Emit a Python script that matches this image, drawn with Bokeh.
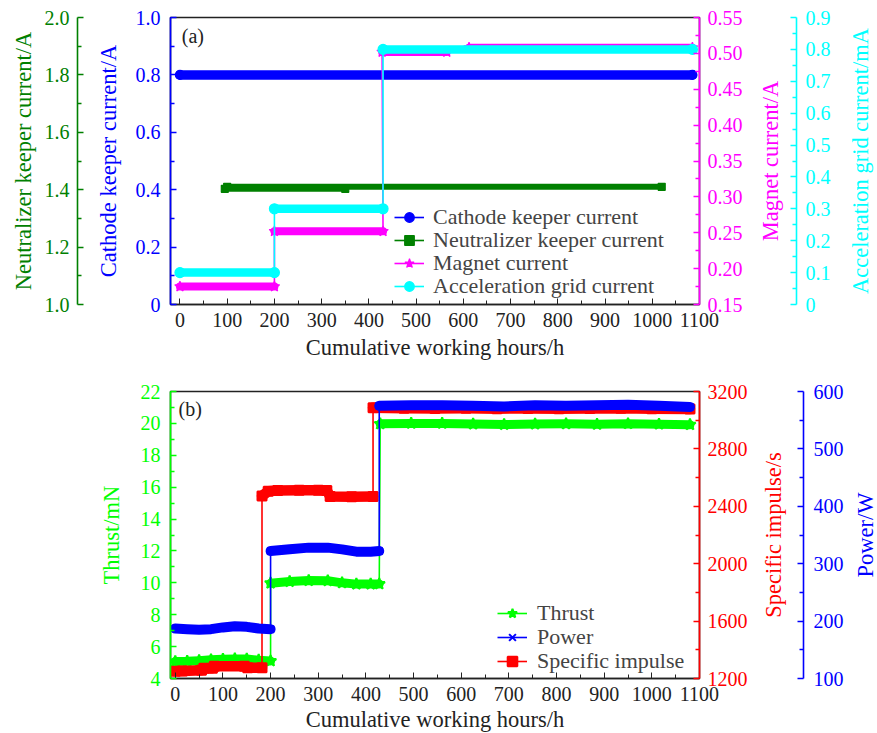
import math
from bokeh.plotting import figure
from bokeh.models import (Range1d, LinearAxis, FixedTicker, Legend, LegendItem,
                          Label, CustomJSTickFormatter)
from bokeh.layouts import column
from bokeh.embed import file_html
from bokeh.resources import INLINE

FONT = "Liberation Serif"
TICK_FS = "20px"
LABEL_FS = "22.5px"
LEG_FS = "22px"
FW = 529          # frame width (px)

# ---------------- shared ----------------
x_title = "Cumulative working hours/h"
x_major = [0, 100, 200, 300, 400, 500, 600, 700, 800, 900, 1000, 1100]
x_minor = [50, 150, 250, 350, 450, 550, 650, 750, 850, 950, 1050]

# ---------------- panel (a) data ----------------
cath_label = "Cathode keeper current"
cath_start = [0]
cath_end = [1085]
cath_val = [0.80]

neut_label = "Neutralizer keeper current"
neut_start = [95, 100]
neut_end = [350, 1020]
neut_val = [1.403, 1.41]

mag_label = "Magnet current"
mag_start = [0, 200, 428, 612]
mag_end = [200, 430, 565, 1085]
mag_val = [0.175, 0.252, 0.502, 0.508]

acc_label = "Acceleration grid current"
acc_start = [0, 200, 430]
acc_end = [200, 430, 1085]
acc_val = [0.10, 0.30, 0.80]

cath_axis_title = "Cathode keeper current/A"
neut_axis_title = "Neutralizer keeper current/A"
mag_axis_title = "Magnet current/A"
acc_axis_title = "Acceleration grid current/mA"
cath_ticks = [0, 0.2, 0.4, 0.6, 0.8, 1.0]
neut_ticks = [1.0, 1.2, 1.4, 1.6, 1.8, 2.0]
mag_ticks = [0.15, 0.20, 0.25, 0.30, 0.35, 0.40, 0.45, 0.50, 0.55]
acc_ticks = [0, 0.1, 0.2, 0.3, 0.4, 0.5, 0.6, 0.7, 0.8, 0.9]

# ---------------- panel (b) data ----------------
thrust_label = "Thrust"
thrust_h1 = [0, 25, 50, 75, 100, 125, 150, 175, 200]
thrust_v1 = [5.07, 5.08, 5.12, 5.17, 5.21, 5.23, 5.22, 5.15, 5.10]
thrust_h2 = [200, 240, 280, 320, 350, 380, 410, 428]
thrust_v2 = [9.98, 10.08, 10.14, 10.13, 10.00, 9.92, 9.92, 9.93]
thrust_h3 = [430, 495, 560, 625, 690, 755, 820, 885, 950, 1015, 1080]
thrust_v3 = [19.97, 20.00, 20.00, 19.96, 19.93, 19.96, 19.97, 19.94, 19.98, 19.95, 19.92]

power_label = "Power"
power_h1 = [0, 25, 50, 75, 100, 125, 150, 175, 200]
power_v1 = [187, 186, 185, 186, 189, 191, 190, 187, 186]
power_h2 = [200, 240, 280, 320, 350, 380, 410, 428]
power_v2 = [322, 325, 328, 328, 325, 321, 321, 322]
power_h3 = [428, 495, 560, 625, 690, 755, 820, 885, 950, 1015, 1080]
power_v3 = [575, 576, 576, 575, 574, 576, 575, 576, 577, 575, 573]

isp_label = "Specific impulse"
isp_h1 = [0, 15, 55, 60, 78, 82, 145, 152, 182]
isp_v1 = [1250, 1252, 1258, 1272, 1272, 1286, 1286, 1275, 1275]
isp_h2 = [182, 195, 215, 260, 300, 318, 325, 370, 415]
isp_v2 = [2472, 2505, 2510, 2512, 2512, 2510, 2468, 2466, 2468]
isp_h3 = [415, 480, 545, 610, 675, 740, 805, 870, 935, 1000, 1080]
isp_v3 = [3087, 3083, 3082, 3083, 3080, 3082, 3080, 3081, 3083, 3080, 3078]

thrust_axis_title = "Thrust/mN"
isp_axis_title = "Specific impulse/s"
power_axis_title = "Power/W"
thrust_ticks = [4, 6, 8, 10, 12, 14, 16, 18, 20, 22]
isp_ticks = [1200, 1600, 2000, 2400, 2800, 3200]
power_ticks = [100, 200, 300, 400, 500, 600]


def minor_of(ticks):
    return [(a + b) / 2 for a, b in zip(ticks[:-1], ticks[1:])]


def style_axis(ax, color, ticks, title, fmt):
    ax.ticker = FixedTicker(ticks=ticks, minor_ticks=minor_of(ticks))
    ax.formatter = CustomJSTickFormatter(code=fmt)
    ax.axis_line_color = color
    ax.axis_line_width = 1.6
    ax.major_tick_line_color = color
    ax.minor_tick_line_color = color
    ax.major_tick_line_width = 1.3
    ax.minor_tick_line_width = 1.3
    ax.major_tick_in = 6
    ax.major_tick_out = 0
    ax.minor_tick_in = 4
    ax.minor_tick_out = 0
    ax.major_label_text_color = color
    ax.major_label_text_font = FONT
    ax.major_label_text_font_size = TICK_FS
    if title is not None:
        ax.axis_label = title
        ax.axis_label_text_color = color
        ax.axis_label_text_font = FONT
        ax.axis_label_text_font_size = LABEL_FS
        ax.axis_label_text_font_style = "normal"


def spacer(range_name, gap):
    return LinearAxis(y_range_name=range_name, ticker=FixedTicker(ticks=[]),
                      axis_line_color=None, major_tick_line_color=None,
                      minor_tick_line_color=None, major_label_text_font_size="0px",
                      major_label_standoff=0, axis_label="\u00a0",
                      axis_label_text_font_size="1px", axis_label_standoff=gap)


def style_x(ax, ticks, minor, label_standoff):
    ax.ticker = FixedTicker(ticks=ticks, minor_ticks=minor)
    ax.axis_line_color = "#222222"
    ax.axis_line_width = 1.6
    ax.major_tick_line_color = "#222222"
    ax.minor_tick_line_color = "#222222"
    ax.major_tick_in = 6
    ax.major_tick_out = 0
    ax.minor_tick_in = 4
    ax.minor_tick_out = 0
    ax.major_label_text_color = "#222222"
    ax.major_label_text_font = FONT
    ax.major_label_text_font_size = TICK_FS
    ax.major_label_standoff = 8
    ax.axis_label = x_title
    ax.axis_label_text_color = "#222222"
    ax.axis_label_text_font = FONT
    ax.axis_label_text_font_size = LABEL_FS
    ax.axis_label_text_font_style = "normal"
    ax.axis_label_standoff = label_standoff


def right_title(text, color, px_from_frame, xr, y_mid):
    # rotated (reading upwards) title, px_from_frame pixels right of the frame edge
    lo, hi = xr
    x = hi + px_from_frame * (hi - lo) / FW
    return Label(x=x, y=y_mid, text=text, angle=math.pi / 2,
                 text_align="center", text_baseline="middle",
                 text_font=FONT, text_font_size=LABEL_FS, text_color=color)


def step_path(starts, ends, vals):
    xs, ys = [], []
    for s, e, v in zip(starts, ends, vals):
        xs += [s, e]
        ys += [v, v]
    return xs, ys


def add_legend_rows(p, items, x, ys, standoff, h):
    for it, y in zip(items, ys):
        p.add_layout(Legend(items=[it], location=(x, y), label_text_font=FONT,
                            label_text_font_size=LEG_FS, glyph_width=30,
                            glyph_height=h, label_height=h, spacing=0, padding=0,
                            margin=0, label_standoff=standoff, border_line_alpha=0,
                            background_fill_alpha=0))


# ================= panel (a) =================
BLUE = "#0000ff"
DGREEN = "#008000"
MAG = "#ff00ff"
CYAN = "#00ffff"
X1 = (-20, 1100)

p1 = figure(frame_width=FW, frame_height=287, x_range=Range1d(*X1),
            y_range=Range1d(0, 1), output_backend="svg", toolbar_location=None,
            min_border_left=170, min_border_right=178, min_border_top=17,
            min_border_bottom=61)
p1.extra_y_ranges = {"neut": Range1d(1, 2), "mag": Range1d(0.15, 0.55),
                     "acc": Range1d(0, 0.9)}
p1.grid.visible = False
p1.outline_line_color = "#222222"
p1.outline_line_width = 1.6

fmt1 = "return tick == 0 ? '0' : tick.toFixed(1);"
fmt2 = "return tick.toFixed(2);"
style_axis(p1.yaxis[0], BLUE, cath_ticks, cath_axis_title, fmt1)
p1.yaxis[0].major_label_standoff = 10
p1.yaxis[0].axis_label_standoff = 12
p1.add_layout(spacer("neut", 11), "left")
ax_neut = LinearAxis(y_range_name="neut")
style_axis(ax_neut, DGREEN, neut_ticks, neut_axis_title, "return tick.toFixed(1);")
ax_neut.major_label_standoff = 8
ax_neut.axis_label_standoff = 6
p1.add_layout(ax_neut, "left")

ax_mag = LinearAxis(y_range_name="mag")
style_axis(ax_mag, MAG, mag_ticks, None, fmt2)
ax_mag.major_label_standoff = 8
ax_acc = LinearAxis(y_range_name="acc")
style_axis(ax_acc, CYAN, acc_ticks, None, fmt1)
ax_acc.major_label_standoff = 9
p1.add_layout(ax_mag, "right")
p1.add_layout(right_title(mag_axis_title, MAG, 70.5, X1, 0.5), "right")
p1.add_layout(spacer("mag", 22), "right")
p1.add_layout(ax_acc, "right")
p1.add_layout(right_title(acc_axis_title, CYAN, 160.5, X1, 0.5), "right")
style_x(p1.xaxis[0], x_major, x_minor, 5)

items1 = []
series1 = [
    (cath_label, cath_start, cath_end, cath_val, "default", BLUE, 9.5, "circle", 9, BLUE),
    (neut_label, neut_start, neut_end, neut_val, "neut", DGREEN, 6, "square_x", 7, DGREEN),
    (mag_label, mag_start, mag_end, mag_val, "mag", MAG, 8, "star", 11, MAG),
    (acc_label, acc_start, acc_end, acc_val, "acc", CYAN, 8.5, "circle_cross", 10, CYAN),
]
for lab, st, en, va, rn, col, bw, mk, ms, fc in series1:
    p1.segment(x0=st, x1=en, y0=va, y1=va, y_range_name=rn, line_color=col,
               line_width=bw, line_cap="round")
    xs, ys = step_path(st, en, va)
    lr = p1.line(xs, ys, y_range_name=rn, line_color=col, line_width=1.6)
    mr = p1.scatter(xs, ys, y_range_name=rn, marker=mk, size=ms, fill_color=fc,
                    line_color=col, line_width=1.2)
    items1.append(LegendItem(label=lab, renderers=[lr, mr]))

add_legend_rows(p1, items1, 224, [74, 51, 28, 5], 9, 24)
p1.add_layout(Label(x=4, y=0.935, text="(a)", text_font=FONT, text_font_size="20px",
                    text_baseline="middle", text_align="left", text_color="#222222"))

# ================= panel (b) =================
LIME = "#00ff00"
RED = "#ff0000"
X2 = (-10, 1100)

p2 = figure(frame_width=FW, frame_height=287, x_range=Range1d(*X2),
            y_range=Range1d(4, 22), output_backend="svg", toolbar_location=None,
            min_border_left=170, min_border_right=178, min_border_top=26,
            min_border_bottom=55)
p2.extra_y_ranges = {"isp": Range1d(1200, 3200), "pow": Range1d(100, 600)}
p2.grid.visible = False
p2.outline_line_color = "#222222"
p2.outline_line_width = 1.6

style_axis(p2.yaxis[0], LIME, thrust_ticks, thrust_axis_title, "return tick.toFixed(0);")
p2.yaxis[0].major_label_standoff = 10
p2.yaxis[0].axis_label_standoff = 14
ax_isp = LinearAxis(y_range_name="isp")
style_axis(ax_isp, RED, isp_ticks, None, "return tick.toFixed(0);")
ax_isp.major_label_standoff = 8
ax_pow = LinearAxis(y_range_name="pow")
style_axis(ax_pow, BLUE, power_ticks, None, "return tick.toFixed(0);")
ax_pow.major_label_standoff = 10
p2.add_layout(ax_isp, "right")
p2.add_layout(right_title(isp_axis_title, RED, 74, X2, 13), "right")
p2.add_layout(spacer("isp", 24), "right")
p2.add_layout(ax_pow, "right")
p2.add_layout(right_title(power_axis_title, BLUE, 165.5, X2, 13), "right")
style_x(p2.xaxis[0], x_major, x_minor, 3)

series2 = [
    (thrust_label, [thrust_h1, thrust_h2, thrust_h3], [thrust_v1, thrust_v2, thrust_v3],
     "default", LIME, 9, "star", 12),
    (isp_label, [isp_h1, isp_h2, isp_h3], [isp_v1, isp_v2, isp_v3],
     "isp", RED, 10.5, "square", 9),
    (power_label, [power_h1, power_h2, power_h3], [power_v1, power_v2, power_v3],
     "pow", BLUE, 10, "x", 10),
]
rend2 = {}
for lab, hs, vs, rn, col, bw, mk, ms in series2:
    p2.multi_line(hs, vs, y_range_name=rn, line_color=col, line_width=bw,
                  line_cap="round", line_join="round")
    xs = hs[0] + hs[1] + hs[2]
    ys = vs[0] + vs[1] + vs[2]
    lr = p2.line(xs, ys, y_range_name=rn, line_color=col, line_width=1.6)
    mr = p2.scatter(xs, ys, y_range_name=rn, marker=mk, size=ms, fill_color=col,
                    line_color=col, line_width=2)
    rend2[lab] = [lr, mr]

items2 = [LegendItem(label=thrust_label, renderers=rend2[thrust_label]),
          LegendItem(label=power_label, renderers=rend2[power_label]),
          LegendItem(label=isp_label, renderers=rend2[isp_label])]
add_legend_rows(p2, items2, 327, [52, 28, 4], 10, 24)
p2.add_layout(Label(x=7, y=20.9, text="(b)", text_font=FONT, text_font_size="20px",
                    text_baseline="middle", text_align="left", text_color="#222222"))

layout = column(p1, p2)
open("out.html", "w").write(file_html(layout, INLINE))
